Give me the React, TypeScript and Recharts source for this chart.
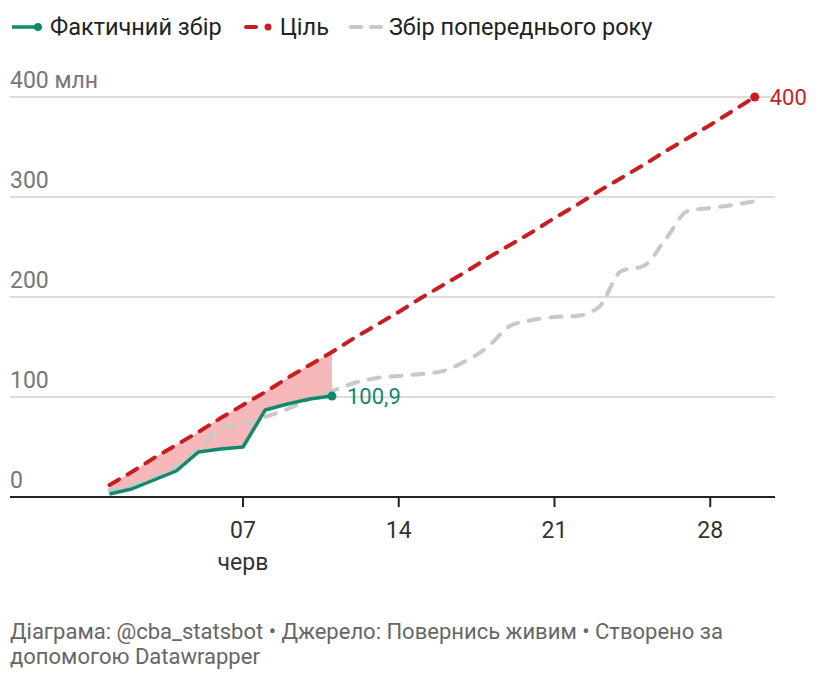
import React from 'react';
import { Area, CartesianGrid, ComposedChart, LabelList, Line, XAxis, YAxis } from 'recharts';

// червень, дні 1..30
const days = [1, 2, 3, 4, 5, 6, 7, 8, 9, 10, 11, 12, 13, 14, 15, 16, 17, 18, 19, 20, 21, 22, 23, 24, 25, 26, 27, 28, 29, 30];
const actual = [3, 8, 17, 26, 45, 48, 50, 87, 93, 98, 100.9];
const target = [12, 25, 39, 52, 65, 79, 92, 105, 119, 132, 145, 159, 172, 185, 199, 212, 225, 239, 252, 265, 279, 292, 306, 319, 332, 346, 359, 372, 386, 400];
const prevYear = [7, 12, 20, 30, 49, 68, 73, 80, 88, 98, 106, 114, 119, 121, 123, 126, 136, 150, 171, 177, 180, 181, 190, 226, 231, 258, 286, 289, 292, 296];
const xTicks = [7, 14, 21, 28];
const yTicks = [0, 100, 200, 300, 400];

const GREEN = '#10896d';
const RED = '#c71e24';
const GRAY = '#c8c8c8';
const FONT = 'Roboto, sans-serif';

const data = days.map((d, i) => ({
  day: d,
  actual: i < actual.length ? actual[i] : null,
  target: target[i],
  prev: prevYear[i],
  gap: i < actual.length ? [actual[i], target[i]] : null,
}));

function XTick({ x, y, payload }: any) {
  const v = payload.value;
  return (
    <g>
      <text x={x} y={y} dy={29} textAnchor="middle" fontSize={23} fill="#333" fontFamily={FONT}>
        {String(v).padStart(2, '0')}
      </text>
      {v === 7 && (
        <text x={x} y={y} dy={61} textAnchor="middle" fontSize={23} fill="#333" fontFamily={FONT}>
          черв
        </text>
      )}
    </g>
  );
}

function YTick({ y, payload }: any) {
  return (
    <text x={2} y={y} dy={-9} textAnchor="start" fontSize={23} fill="#777" fontFamily={FONT}>
      {payload.value === 400 ? '400 млн' : payload.value}
    </text>
  );
}

function endDot(last: number, color: string) {
  return (props: any) =>
    props.index === last ? (
      <circle key={props.index} cx={props.cx} cy={props.cy} r={4.5} fill={color} stroke="none" />
    ) : (
      <g key={props.index} />
    );
}

function endLabel(last: number, color: string, text: string) {
  return (props: any) =>
    props.index === last ? (
      <text x={props.x + 15} y={props.y} dy={8} fontSize={22} fill={color} fontFamily={FONT}>
        {text}
      </text>
    ) : null;
}

function Legend() {
  const item = { display: 'flex', alignItems: 'center', marginRight: 20 } as const;
  return (
    <div style={{ position: 'absolute', left: 4, top: 4, height: 30, display: 'flex', fontSize: 23.5, color: '#222', fontFamily: FONT }}>
      <div style={item}>
        <svg width={36} height={12}>
          <line x1={0} y1={6} x2={26} y2={6} stroke={GREEN} strokeWidth={3.5} />
          <circle cx={26} cy={6} r={4} fill={GREEN} />
        </svg>
        <span style={{ marginLeft: 2 }}>Фактичний збір</span>
      </div>
      <div style={item}>
        <svg width={36} height={12}>
          <line x1={4} y1={6} x2={14} y2={6} stroke={RED} strokeWidth={4} strokeLinecap="round" />
          <circle cx={26} cy={6} r={3.5} fill={RED} />
        </svg>
        <span style={{ marginLeft: 2 }}>Ціль</span>
      </div>
      <div style={item}>
        <svg width={36} height={12}>
          <line x1={2} y1={6} x2={32} y2={6} stroke={GRAY} strokeWidth={4} strokeDasharray="10 10" strokeLinecap="round" />
        </svg>
        <span style={{ marginLeft: 4 }}>Збір попереднього року</span>
      </div>
    </div>
  );
}

export default function App() {
  return (
    <div style={{ position: 'relative', width: 804, height: 664, fontFamily: FONT }}>
      <Legend />
      <ComposedChart width={804} height={590} data={data} margin={{ top: 89, right: 37, bottom: 11, left: 2 }}>
        <CartesianGrid vertical={false} stroke="#d0d0d0" strokeWidth={1.5} />
        <XAxis
          dataKey="day"
          type="number"
          domain={[-3.47, 30.91]}
          ticks={xTicks}
          tick={<XTick />}
          tickSize={10}
          tickLine={{ stroke: '#222', strokeWidth: 2 }}
          axisLine={{ stroke: '#222', strokeWidth: 2 }}
          height={90}
          allowDataOverflow
        />
        <YAxis domain={[0, 400]} ticks={yTicks} width={1} mirror axisLine={false} tickLine={false} tick={<YTick />} />
        <Area dataKey="gap" fill="#f6b8b8" fillOpacity={1} stroke="none" isAnimationActive={false} connectNulls={false} />
        <Line dataKey="prev" type="monotone" stroke={GRAY} strokeWidth={4} strokeDasharray="11 11" strokeLinecap="round" dot={false} isAnimationActive={false} />
        <Line dataKey="target" type="linear" stroke={RED} strokeWidth={4} strokeDasharray="11 10" strokeLinecap="round" dot={endDot(target.length - 1, RED)} isAnimationActive={false}>
          <LabelList dataKey="target" content={endLabel(target.length - 1, RED, '400')} />
        </Line>
        <Line dataKey="actual" type="linear" stroke={GREEN} strokeWidth={3.5} strokeLinejoin="round" dot={endDot(actual.length - 1, GREEN)} isAnimationActive={false}>
          <LabelList dataKey="actual" content={endLabel(actual.length - 1, GREEN, '100,9')} />
        </Line>
      </ComposedChart>
      <div style={{ position: 'absolute', left: 2, top: 611, width: 790, fontSize: 22, lineHeight: '25px', color: '#666', fontFamily: FONT }}>
        Діаграма: @cba_statsbot • Джерело: Повернись живим • Створено за допомогою Datawrapper
      </div>
    </div>
  );
}
